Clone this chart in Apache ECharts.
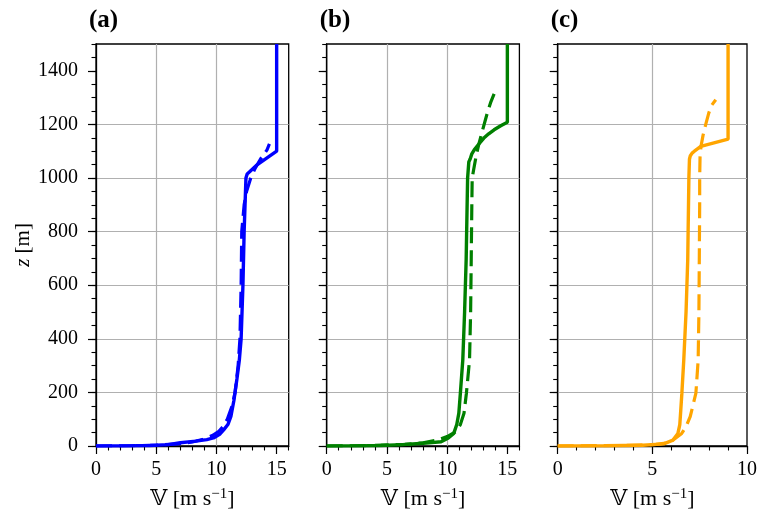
<!DOCTYPE html>
<html><head><meta charset="utf-8">
<script src="https://cdn.jsdelivr.net/npm/echarts@6/dist/echarts.min.js"></script>
<style>html,body{margin:0;padding:0;background:#fff}#c{width:760px;height:519px}</style>
</head><body><div id="c"></div>
<script>
// ---- data ----
const panelTitles = ['(a)', '(b)', '(c)'];
const colors = ['#0000ff', '#008000', '#ffa500'];
const xMax = [16, 16, 10];
const xMajorTicks = [[0, 5, 10, 15], [0, 5, 10, 15], [0, 5, 10]];
const yMajorTicks = [0, 200, 400, 600, 800, 1000, 1200, 1400];

// panel (a)
const zA_solid = [0, 0.5, 2, 5, 12, 18, 24, 30, 45, 60, 80, 110, 170, 250, 320, 400, 600, 800, 1000, 1015, 1025, 1050, 1075, 1100, 1500];
const vA_solid = [0, 2.5, 4.5, 6.0, 7.0, 8.3, 9.2, 9.75, 10.3, 10.6, 10.95, 11.2, 11.45, 11.7, 11.9, 12.05, 12.2, 12.3, 12.45, 12.55, 12.8, 13.4, 14.2, 15.0, 15.0];
const zA_dash = [0, 1, 3, 8, 15, 25, 40, 55, 75, 100, 150, 200, 300, 400, 600, 800, 900, 950, 1000, 1035, 1070, 1105, 1127];
const vA_dash = [0, 3.0, 5.0, 6.8, 8.0, 8.9, 9.7, 10.2, 10.6, 10.9, 11.3, 11.55, 11.8, 11.95, 12.05, 12.1, 12.3, 12.5, 12.85, 13.2, 13.65, 14.2, 14.4];

// panel (b)
const zB_solid = [0, 0.5, 2, 5, 10, 16, 30, 47, 80, 122, 197, 321, 500, 696, 800, 1000, 1060, 1072, 1090, 1105, 1125, 1149, 1165, 1180, 1195, 1208, 1500];
const vB_solid = [0, 2.5, 4.5, 6.3, 8.0, 9.5, 10.1, 10.55, 10.8, 10.97, 11.1, 11.3, 11.45, 11.58, 11.62, 11.7, 11.8, 11.92, 12.05, 12.25, 12.6, 13.05, 13.45, 13.9, 14.45, 15.0, 15.0];
const zB_dash = [0, 2, 6, 12, 22, 35, 53, 80, 122, 197, 321, 500, 696, 900, 1000, 1031, 1080, 1124, 1180, 1242, 1280, 1314];
const vB_dash = [0, 4.0, 6.5, 8.0, 9.2, 10.0, 10.7, 11.1, 11.4, 11.6, 11.86, 11.95, 12.0, 12.05, 12.08, 12.2, 12.4, 12.62, 12.95, 13.33, 13.6, 13.9];

// panel (c)
const zC_solid = [0, 1, 3, 8, 22, 47, 80, 122, 197, 321, 500, 696, 800, 1000, 1070, 1082, 1093, 1100, 1118, 1145, 1500];
const vC_solid = [0, 2.5, 4.5, 5.6, 6.09, 6.35, 6.45, 6.49, 6.56, 6.66, 6.78, 6.87, 6.89, 6.93, 6.96, 7.0, 7.1, 7.22, 7.56, 9.0, 9.0];
const zC_dash = [0, 2, 6, 12, 22, 47, 72, 110, 147, 197, 321, 500, 696, 900, 1000, 1080, 1118, 1160, 1200, 1242, 1270, 1292];
const vC_dash = [0, 3.5, 5.2, 5.8, 6.1, 6.55, 6.78, 7.0, 7.13, 7.3, 7.42, 7.46, 7.48, 7.5, 7.5, 7.52, 7.57, 7.68, 7.82, 7.98, 8.12, 8.35];

const solidZ = [zA_solid, zB_solid, zC_solid];
const solidV = [vA_solid, vB_solid, vC_solid];
const dashZ = [zA_dash, zB_dash, zC_dash];
const dashV = [vA_dash, vB_dash, vC_dash];

// ---- chart ----
const FONT = "'Liberation Serif', 'DejaVu Serif', serif";
const gridLefts = [96, 326.7, 557.7];
const grids = gridLefts.map(l => ({left: l, top: 44, width: 192.7, height: 402,
  show: true, borderColor: '#000', borderWidth: 1.3, backgroundColor: 'transparent'}));

const xAxes = [], yAxes = [], series = [], titles = [];
for (let i = 0; i < 3; i++) {
  xAxes.push({
    gridIndex: i, type: 'value', min: 0, max: xMax[i], interval: 5, position: 'bottom',
    axisLine: {show: true, onZero: false, lineStyle: {color: '#000', width: 1.3}},
    axisTick: {show: true, length: 8, lineStyle: {color: '#000', width: 1.2}, customValues: xMajorTicks[i]},
    axisLabel: {show: true, customValues: xMajorTicks[i], margin: 14, fontFamily: FONT, fontSize: 20, color: '#000',
      formatter: v => String(v)},
    splitLine: {show: true, showMinLine: false, showMaxLine: false, lineStyle: {color: '#b0b0b0', width: 1.2}},
    name: '𝕍 [m s{sup|−1}]', nameLocation: 'middle', nameGap: 41,
    nameTextStyle: {fontFamily: FONT, fontSize: 22, color: '#000',
      rich: {sup: {fontFamily: FONT, fontSize: 15, color: '#000', verticalAlign: 'top', padding: [0, 0, 10, 0]}}}
  });
  xAxes.push({
    gridIndex: i, type: 'value', min: 0, max: xMax[i], interval: 1, position: 'bottom',
    axisLine: {show: false}, axisLabel: {show: false}, splitLine: {show: false},
    axisTick: {show: true, length: 4.5, lineStyle: {color: '#000', width: 1.1}}
  });
  yAxes.push({
    gridIndex: i, type: 'value', min: 0, max: 1500, interval: 200, position: 'left',
    axisLine: {show: true, onZero: false, lineStyle: {color: '#000', width: 1.3}},
    axisTick: {show: true, length: 8, lineStyle: {color: '#000', width: 1.2}, customValues: yMajorTicks},
    axisLabel: {show: i === 0, customValues: yMajorTicks, margin: 18, fontFamily: FONT, fontSize: 20, color: '#000',
      formatter: v => String(v)},
    splitLine: {show: true, showMinLine: false, showMaxLine: false, lineStyle: {color: '#b0b0b0', width: 1.2}},
    name: i === 0 ? '{it|z} [m]' : '', nameLocation: 'middle', nameGap: 60,
    nameTextStyle: {fontFamily: FONT, fontSize: 21, color: '#000',
      rich: {it: {fontFamily: FONT, fontSize: 21, fontStyle: 'italic', color: '#000'}}}
  });
  yAxes.push({
    gridIndex: i, type: 'value', min: 0, max: 1500, interval: 50, position: 'left',
    axisLine: {show: false}, axisLabel: {show: false}, splitLine: {show: false},
    axisTick: {show: true, length: 4.5, lineStyle: {color: '#000', width: 1.1}}
  });
  series.push({
    type: 'line', xAxisIndex: 2 * i, yAxisIndex: 2 * i, showSymbol: false, symbol: 'none',
    data: solidV[i].map((v, k) => [v, solidZ[i][k]]),
    lineStyle: {color: colors[i], width: 3.4, type: 'solid'}, z: 5
  });
  series.push({
    type: 'line', xAxisIndex: 2 * i, yAxisIndex: 2 * i, showSymbol: false, symbol: 'none',
    data: dashV[i].map((v, k) => [v, dashZ[i][k]]),
    lineStyle: {color: colors[i], width: 3.2, type: [16, 7]}, z: 4
  });
  titles.push({text: panelTitles[i], left: gridLefts[i] - 12, top: 3,
    textStyle: {fontFamily: FONT, fontWeight: 'bold', fontSize: 25, color: '#000'}});
}

const chart = echarts.init(document.getElementById('c'), null, {renderer: 'canvas'});
chart.setOption({
  animation: false,
  backgroundColor: '#fff',
  title: titles,
  grid: grids,
  xAxis: xAxes,
  yAxis: yAxes,
  series: series
});
</script>
</body></html>
